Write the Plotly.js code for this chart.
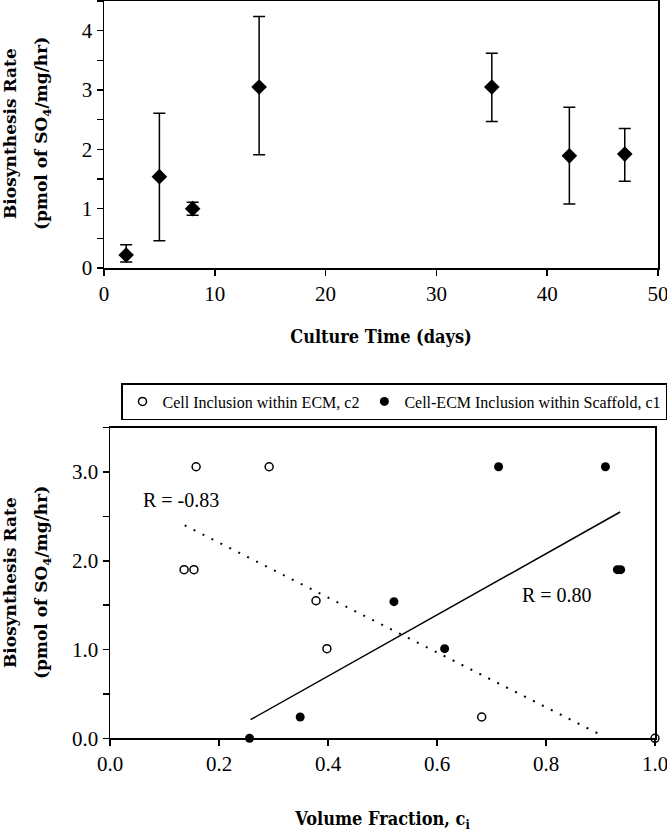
<!DOCTYPE html>
<html>
<head>
<meta charset="utf-8">
<script src="https://cdn.plot.ly/plotly-3.0.1.min.js"></script>
<style>html,body{margin:0;padding:0;background:#fff;}#chart{width:667px;height:832px;}</style>
</head>
<body>
<div id="chart"></div>
<script>
// Top panel: biosynthesis rate vs culture time
const days = [2, 5, 8, 14, 35, 42, 47];
const rate = [0.22, 1.54, 1.00, 3.05, 3.05, 1.89, 1.92];
const errPlus = [0.17, 1.07, 0.11, 1.19, 0.57, 0.82, 0.43];
const errMinus = [0.12, 1.08, 0.11, 1.14, 0.58, 0.81, 0.46];

// Bottom panel: biosynthesis rate vs volume fraction
const c2X = [0.158, 0.292, 0.136, 0.154, 0.378, 0.398, 0.682, 1.000];
const c2Y = [3.06, 3.06, 1.90, 1.90, 1.55, 1.01, 0.24, 0.00];
const c1X = [0.256, 0.349, 0.521, 0.614, 0.713, 0.909, 0.931, 0.937];
const c1Y = [0.00, 0.24, 1.54, 1.01, 3.06, 3.06, 1.90, 1.90];

// Trend lines (endpoints)
const fitC1X = [0.258, 0.936];
const fitC1Y = [0.21, 2.55];
const fitC2X = [0.137, 0.900];
const fitC2Y = [2.40, 0.04];

const labelC2 = 'Cell Inclusion within ECM, c2';
const labelC1 = 'Cell-ECM Inclusion within Scaffold, c1';
const rLabels = ['R = -0.83', 'R = 0.80'];
const rX = [0.056, 0.753];
const rY = [2.69, 1.62];

const yTitleLine1 = 'Biosynthesis Rate';
const yTitleLine2 = '(pmol of SO<sub>4</sub>/mg/hr)';

const W = 667, H = 832;
const tickFont = {family: 'Liberation Serif', size: 21, color: '#000'};
const xTitleFont = {family: 'DejaVu Serif Condensed', size: 18, color: '#000', weight: 'bold'};
const yTitleFont = {family: 'DejaVu Serif', size: 17, color: '#000', weight: 'bold'};

const traces = [
  {
    x: days, y: rate, type: 'scatter', mode: 'markers',
    marker: {symbol: 'diamond', size: 12, color: '#000'},
    error_y: {type: 'data', symmetric: false, array: errPlus, arrayminus: errMinus,
              color: '#000', thickness: 1.5, width: 6},
    xaxis: 'x', yaxis: 'y', showlegend: false
  },
  {
    x: c2X, y: c2Y, type: 'scatter', mode: 'markers', name: labelC2,
    marker: {symbol: 'circle-open', size: 8, color: '#000', line: {width: 1.5, color: '#000'}},
    xaxis: 'x2', yaxis: 'y2', cliponaxis: false
  },
  {
    x: c1X, y: c1Y, type: 'scatter', mode: 'markers', name: labelC1,
    marker: {symbol: 'circle', size: 9, color: '#000'},
    xaxis: 'x2', yaxis: 'y2', cliponaxis: false
  },
  {
    x: fitC1X, y: fitC1Y, type: 'scatter', mode: 'lines',
    line: {color: '#000', width: 1.5}, xaxis: 'x2', yaxis: 'y2', showlegend: false
  },
  {
    x: fitC2X, y: fitC2Y, type: 'scatter', mode: 'lines',
    line: {color: '#000', width: 2, dash: '2px,8px'}, xaxis: 'x2', yaxis: 'y2', showlegend: false
  }
];

const axisCommon = {
  showline: true, linecolor: '#000', linewidth: 1.5, mirror: true,
  ticks: 'outside', ticklen: 6, tickwidth: 1.5, tickcolor: '#000',
  showgrid: false, zeroline: false, tickfont: tickFont, ticklabeloverflow: 'allow'
};
const minorTicks = {dtick: 0.5, ticks: 'outside', ticklen: 6, tickwidth: 1.5, tickcolor: '#000', showgrid: false};

// y titles placed as rotated annotations so the two lines sit as in the figure
const yTitleAnn = [];
[134, 583].forEach((cy) => {
  yTitleAnn.push({text: yTitleLine1, x: 10 / W, y: 1 - cy / H, xref: 'paper', yref: 'paper',
    xanchor: 'center', yanchor: 'middle', textangle: -90, showarrow: false, font: yTitleFont});
  yTitleAnn.push({text: yTitleLine2, x: 42 / W, y: 1 - cy / H, xref: 'paper', yref: 'paper',
    xanchor: 'center', yanchor: 'middle', textangle: -90, showarrow: false, font: yTitleFont});
});

const layout = {
  width: W, height: H,
  margin: {l: 0, r: 0, t: 0, b: 0},
  paper_bgcolor: '#fff', plot_bgcolor: '#fff',
  font: {family: 'Liberation Serif', color: '#000'},
  xaxis: Object.assign({}, axisCommon, {
    domain: [104 / W, 658 / W], range: [0, 50], dtick: 10, tick0: 0, anchor: 'y',
    title: {text: 'Culture Time (days)', font: xTitleFont, standoff: 25}
  }),
  yaxis: Object.assign({}, axisCommon, {
    domain: [1 - 268 / H, 1 - 1 / H], range: [0, 4.5], dtick: 1, tick0: 0, anchor: 'x',
    minor: minorTicks
  }),
  xaxis2: Object.assign({}, axisCommon, {
    domain: [110 / W, 655 / W], range: [0, 1], dtick: 0.2, tick0: 0, tickformat: '.1f', anchor: 'y2',
    title: {text: 'Volume Fraction, c<sub>i</sub>', font: xTitleFont, standoff: 39}
  }),
  yaxis2: Object.assign({}, axisCommon, {
    domain: [1 - 738.3 / H, 1 - 427.7 / H], range: [0, 3.5], dtick: 1, tick0: 0, tickformat: '.1f', anchor: 'x2',
    minor: minorTicks
  }),
  legend: {
    orientation: 'h', x: 121 / W, y: 1 - 383 / H, xanchor: 'left', yanchor: 'top',
    bordercolor: '#000', borderwidth: 1.5, bgcolor: '#fff',
    font: {family: 'Liberation Serif', size: 16, color: '#000'},
    itemwidth: 30, tracegroupgap: 0
  },
  annotations: rLabels.map((t, i) => ({
    text: t, x: rX[i], y: rY[i], xref: 'x2', yref: 'y2', xanchor: 'left', yanchor: 'middle',
    showarrow: false, font: {family: 'Liberation Serif', size: 20, color: '#000'}
  })).concat(yTitleAnn)
};

Plotly.newPlot('chart', traces, layout, {displayModeBar: false, staticPlot: true});
</script>
</body>
</html>
